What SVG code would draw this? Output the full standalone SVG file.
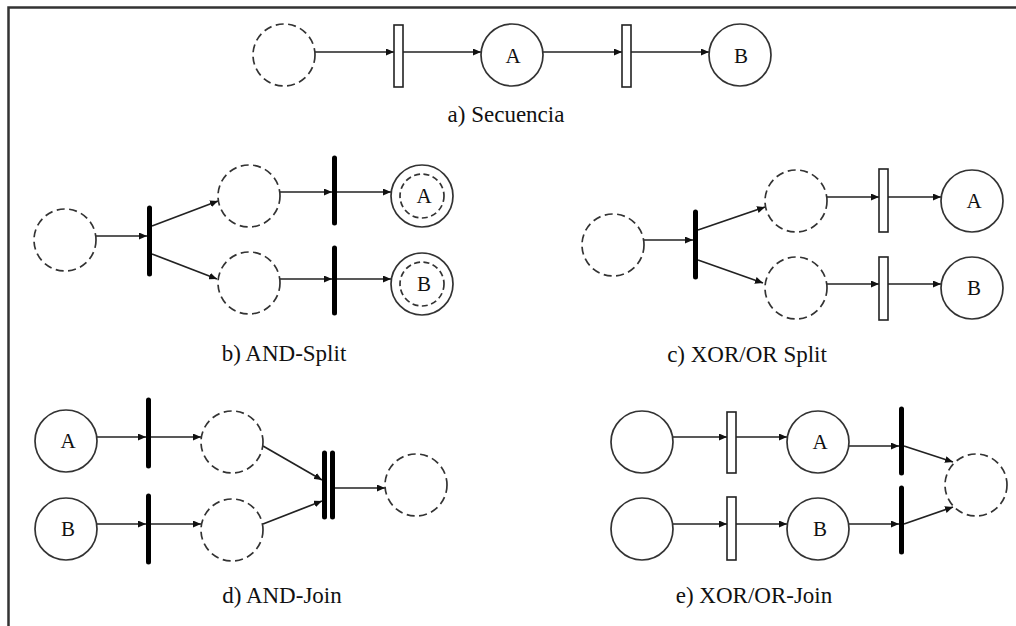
<svg xmlns="http://www.w3.org/2000/svg" width="1016" height="626" viewBox="0 0 1016 626">
<defs>
<marker id="ah" markerUnits="userSpaceOnUse" markerWidth="9" markerHeight="7" refX="8" refY="3.5" orient="auto"><path d="M0,0 L8,3.5 L0,7 z" fill="#111"/></marker>
</defs>
<style>
.pl{fill:#fff;stroke:#333;stroke-width:1.7}
.ds{fill:#fff;stroke:#333;stroke-width:1.7;stroke-dasharray:8 4.5}
.tr{fill:#fff;stroke:#222;stroke-width:1.6}
.bar{stroke:#000;stroke-width:5;stroke-linecap:round}
.ar{stroke:#222;stroke-width:1.7;fill:none;marker-end:url(#ah)}
.lt{font-family:"Liberation Serif","Times New Roman",serif;font-size:21px;fill:#111;text-anchor:middle}
.cap{font-family:"Liberation Serif","Times New Roman",serif;font-size:23px;fill:#111;text-anchor:middle}
</style>
<rect width="1016" height="626" fill="#fff"/>
<g id="frame"><path d="M8.5,626 V7.5 H1016" fill="none" stroke="#333" stroke-width="2.5"/></g>

<g id="connectors">
<!-- a -->
<line class="ar" x1="315" y1="52" x2="394" y2="52"/>
<line class="ar" x1="403" y1="52" x2="481" y2="52"/>
<line class="ar" x1="543" y1="52" x2="622" y2="52"/>
<line class="ar" x1="631" y1="52" x2="709" y2="52"/>
<!-- b -->
<line class="ar" x1="96" y1="236" x2="147" y2="236"/>
<line class="ar" x1="152" y1="226" x2="218" y2="201"/>
<line class="ar" x1="152" y1="254" x2="217" y2="279"/>
<line class="ar" x1="280" y1="192" x2="332" y2="192"/>
<line class="ar" x1="337" y1="192" x2="391" y2="192"/>
<line class="ar" x1="280" y1="279" x2="332" y2="279"/>
<line class="ar" x1="337" y1="279" x2="391" y2="279"/>
<!-- c -->
<line class="ar" x1="644" y1="240" x2="693" y2="240"/>
<line class="ar" x1="698" y1="230" x2="765" y2="207"/>
<line class="ar" x1="698" y1="260" x2="763" y2="283"/>
<line class="ar" x1="827" y1="197" x2="879" y2="197"/>
<line class="ar" x1="888" y1="197" x2="941" y2="197"/>
<line class="ar" x1="827" y1="284" x2="879" y2="284"/>
<line class="ar" x1="888" y1="284" x2="941" y2="284"/>
<!-- d -->
<line class="ar" x1="97" y1="437" x2="146" y2="437"/>
<line class="ar" x1="151" y1="437" x2="201" y2="437"/>
<line class="ar" x1="97" y1="524" x2="146" y2="524"/>
<line class="ar" x1="151" y1="524" x2="201" y2="524"/>
<line class="ar" x1="263" y1="446" x2="322" y2="480"/>
<line class="ar" x1="263" y1="524" x2="322" y2="501"/>
<line class="ar" x1="335" y1="488" x2="385" y2="488"/>
<!-- e -->
<line class="ar" x1="673" y1="437" x2="727" y2="437"/>
<line class="ar" x1="736" y1="437" x2="787" y2="437"/>
<line class="ar" x1="849" y1="446" x2="899" y2="446"/>
<line class="ar" x1="904" y1="446" x2="953" y2="462"/>
<line class="ar" x1="673" y1="524" x2="727" y2="524"/>
<line class="ar" x1="736" y1="524" x2="787" y2="524"/>
<line class="ar" x1="849" y1="524" x2="899" y2="524"/>
<line class="ar" x1="904" y1="524" x2="953" y2="507"/>
</g>

<!-- a) Secuencia -->
<g id="a-p0"><circle class="ds" cx="284" cy="55" r="31"/></g>
<g id="a-t1"><rect class="tr" x="394" y="25" width="9" height="62"/></g>
<g id="a-pA"><circle class="pl" cx="512" cy="55" r="31"/><text class="lt" x="513" y="63">A</text></g>
<g id="a-t2"><rect class="tr" x="622" y="25" width="9" height="62"/></g>
<g id="a-pB"><circle class="pl" cx="740" cy="55" r="31"/><text class="lt" x="741" y="63">B</text></g>
<text class="cap" x="506" y="122">a) Secuencia</text>

<!-- b) AND-Split -->
<g id="b-p0"><circle class="ds" cx="65" cy="240" r="31"/></g>
<g id="b-t0"><line class="bar" x1="149.5" y1="208" x2="149.5" y2="274"/></g>
<g id="b-p1"><circle class="ds" cx="249" cy="196" r="31"/></g>
<g id="b-p2"><circle class="ds" cx="249" cy="283" r="31"/></g>
<g id="b-t1"><line class="bar" x1="334.5" y1="158" x2="334.5" y2="223"/></g>
<g id="b-t2"><line class="bar" x1="334.5" y1="248" x2="334.5" y2="313"/></g>
<g id="b-pA"><circle class="pl" cx="422" cy="196" r="31"/><circle class="ds" cx="422" cy="196" r="22" style="stroke-dasharray:6 3.5"/><text class="lt" x="424" y="203">A</text></g>
<g id="b-pB"><circle class="pl" cx="422" cy="284" r="31"/><circle class="ds" cx="422" cy="284" r="22" style="stroke-dasharray:6 3.5"/><text class="lt" x="424" y="291">B</text></g>
<text class="cap" x="284" y="361">b) AND-Split</text>

<!-- c) XOR/OR Split -->
<g id="c-p0"><circle class="ds" cx="613" cy="245" r="31"/></g>
<g id="c-t0"><line class="bar" x1="695.5" y1="212" x2="695.5" y2="277"/></g>
<g id="c-p1"><circle class="ds" cx="796" cy="201" r="31"/></g>
<g id="c-p2"><circle class="ds" cx="796" cy="288" r="31"/></g>
<g id="c-t1"><rect class="tr" x="879" y="169" width="9" height="63"/></g>
<g id="c-t2"><rect class="tr" x="879" y="257" width="9" height="63"/></g>
<g id="c-pA"><circle class="pl" cx="972" cy="201" r="31"/><text class="lt" x="974" y="208">A</text></g>
<g id="c-pB"><circle class="pl" cx="972" cy="288" r="31"/><text class="lt" x="974" y="295">B</text></g>
<text class="cap" x="747" y="362">c) XOR/OR Split</text>

<!-- d) AND-Join -->
<g id="d-pA"><circle class="pl" cx="66" cy="441" r="31"/><text class="lt" x="68" y="448">A</text></g>
<g id="d-pB"><circle class="pl" cx="66" cy="529" r="31"/><text class="lt" x="68" y="536">B</text></g>
<g id="d-t1"><line class="bar" x1="148.5" y1="400" x2="148.5" y2="466"/></g>
<g id="d-t2"><line class="bar" x1="148.5" y1="496" x2="148.5" y2="562"/></g>
<g id="d-p1"><circle class="ds" cx="232" cy="442" r="31"/></g>
<g id="d-p2"><circle class="ds" cx="232" cy="530" r="31"/></g>
<g id="d-tj"><line class="bar" x1="324.5" y1="453" x2="324.5" y2="517"/><line class="bar" x1="332.5" y1="453" x2="332.5" y2="517"/></g>
<g id="d-p3"><circle class="ds" cx="416" cy="485" r="31"/></g>
<text class="cap" x="282" y="603">d) AND-Join</text>

<!-- e) XOR/OR-Join -->
<g id="e-p1"><circle class="pl" cx="642" cy="442" r="31"/></g>
<g id="e-p2"><circle class="pl" cx="642" cy="529" r="31"/></g>
<g id="e-t1"><rect class="tr" x="727" y="412" width="9" height="61"/></g>
<g id="e-t2"><rect class="tr" x="727" y="497" width="9" height="63"/></g>
<g id="e-pA"><circle class="pl" cx="818" cy="442" r="31"/><text class="lt" x="820" y="449">A</text></g>
<g id="e-pB"><circle class="pl" cx="818" cy="529" r="31"/><text class="lt" x="820" y="536">B</text></g>
<g id="e-t3"><line class="bar" x1="901.5" y1="409" x2="901.5" y2="473"/></g>
<g id="e-t4"><line class="bar" x1="901.5" y1="488" x2="901.5" y2="552"/></g>
<g id="e-p3"><circle class="ds" cx="976" cy="485" r="31"/></g>
<text class="cap" x="754" y="603">e) XOR/OR-Join</text>
</svg>
